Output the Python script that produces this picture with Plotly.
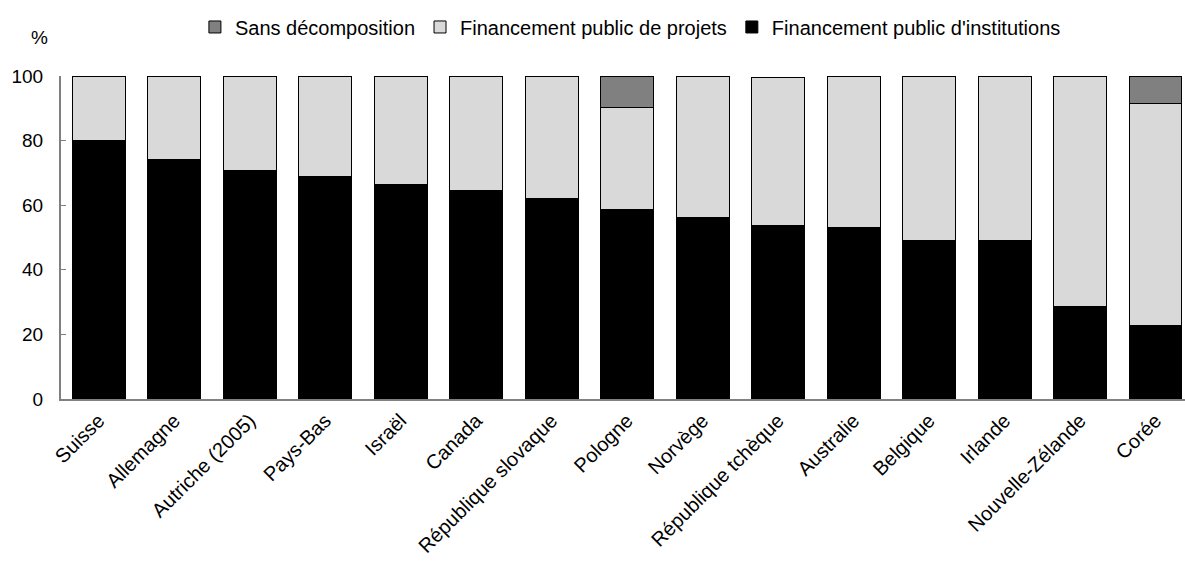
import plotly.graph_objects as go

countries = [
    "Suisse", "Allemagne", "Autriche (2005)", "Pays-Bas", "Israël", "Canada",
    "République slovaque", "Pologne", "Norvège", "République tchèque",
    "Australie", "Belgique", "Irlande", "Nouvelle-Zélande", "Corée",
]
institutions = [80.0, 74.2, 70.6, 69.0, 66.5, 64.4, 62.2, 58.7, 56.3, 53.7,
                53.2, 49.1, 49.1, 28.5, 22.8]
projets = [20.0, 25.8, 29.4, 31.0, 33.5, 35.6, 37.8, 31.5, 43.7, 45.9,
           46.8, 50.9, 50.9, 71.5, 68.7]
sans_decomposition = [0, 0, 0, 0, 0, 0, 0, 9.8, 0, 0,
                      0, 0, 0, 0, 8.5]

FONT = "Liberation Sans, Arial, sans-serif"
outline = dict(color="#000000", width=1)

fig = go.Figure()
fig.add_trace(go.Bar(x=countries, y=institutions, name="Financement public d'institutions",
                     marker=dict(color="#000000", line=outline), width=0.7))
fig.add_trace(go.Bar(x=countries, y=projets, name="Financement public de projets",
                     marker=dict(color="#D9D9D9", line=outline), width=0.7))
fig.add_trace(go.Bar(x=countries, y=sans_decomposition, name="Sans décomposition",
                     marker=dict(color="#808080", line=outline), width=0.7))

fig.update_layout(
    width=1185, height=562,
    margin=dict(l=61, r=0, t=76, b=163, autoexpand=False),
    barmode="stack",
    plot_bgcolor="white", paper_bgcolor="white",
    font=dict(family=FONT, size=18, color="#000000"),
    showlegend=True,
    legend=dict(orientation="h", traceorder="reversed",
                xref="container", x=0.532, xanchor="center",
                yref="container", y=0.952, yanchor="middle",
                font=dict(size=20), itemwidth=30),
    xaxis=dict(range=[-0.5, 14.39], showline=True, linecolor="#808080", linewidth=2,
               ticks="", tickangle=-45, showgrid=False, tickfont=dict(size=20)),
    yaxis=dict(range=[0, 100], tickvals=[0, 20, 40, 60, 80, 100], showline=True,
               linecolor="#808080", linewidth=2, ticks="inside", ticklen=5,
               tickcolor="#808080", showgrid=False, zeroline=False,
               ticklabelstandoff=12, tickfont=dict(size=19)),
    annotations=[dict(text="%", xref="paper", yref="paper", x=-0.019, y=1.118,
                      xanchor="center", yanchor="middle", showarrow=False,
                      font=dict(size=19))],
)

fig.write_html("out.html")
